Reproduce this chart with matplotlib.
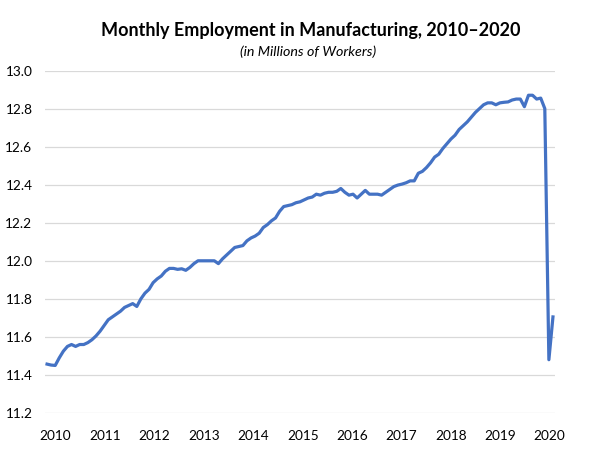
import matplotlib
matplotlib.use("Agg")
import matplotlib.pyplot as plt
import numpy as np

# Monthly values, Jan 2010 .. May 2020 (millions of workers)
v2010 = [11.457, 11.452, 11.45, 11.49, 11.525, 11.55, 11.56, 11.55, 11.56, 11.56, 11.57, 11.585]
v2011 = [11.605, 11.63, 11.66, 11.69, 11.705, 11.72, 11.735, 11.755, 11.765, 11.775, 11.76, 11.80]
v2012 = [11.83, 11.85, 11.885, 11.905, 11.92, 11.945, 11.96, 11.96, 11.955, 11.958, 11.95, 11.965]
v2013 = [11.985, 12.0, 12.0, 12.0, 12.0, 12.0, 11.985, 12.01, 12.03, 12.05, 12.07, 12.075]
v2014 = [12.08, 12.105, 12.12, 12.13, 12.145, 12.175, 12.19, 12.21, 12.225, 12.26, 12.285, 12.29]
v2015 = [12.295, 12.305, 12.31, 12.32, 12.33, 12.335, 12.35, 12.345, 12.355, 12.36, 12.36, 12.365]
v2016 = [12.38, 12.36, 12.345, 12.35, 12.33, 12.35, 12.37, 12.35, 12.35, 12.35, 12.345, 12.36]
v2017 = [12.375, 12.39, 12.398, 12.403, 12.41, 12.42, 12.42, 12.46, 12.47, 12.49, 12.515, 12.545]
v2018 = [12.56, 12.59, 12.615, 12.64, 12.66, 12.69, 12.71, 12.73, 12.755, 12.78, 12.80, 12.82]
v2019 = [12.83, 12.83, 12.82, 12.83, 12.833, 12.835, 12.845, 12.85, 12.85, 12.81, 12.87, 12.87]
v2020 = [12.85, 12.855, 12.80, 11.48, 11.705]

values = v2010 + v2011 + v2012 + v2013 + v2014 + v2015 + v2016 + v2017 + v2018 + v2019 + v2020
year_labels = ["2010", "2011", "2012", "2013", "2014", "2015", "2016", "2017", "2018", "2019", "2020"]
y_ticks = [11.2, 11.4, 11.6, 11.8, 12.0, 12.2, 12.4, 12.6, 12.8, 13.0]

FONT = ["Lato", "DejaVu Sans"]
plt.rcParams["font.family"] = FONT

fig = plt.figure(figsize=(6, 4.5), dpi=100)
ax = fig.add_axes([0.075, 0.0822, 0.85, 0.7611])

x = np.arange(len(values))
ax.plot(x, values, color="#4472C4", linewidth=2.3, solid_joinstyle="round", zorder=3)

ax.set_xlim(-0.5, len(values) - 0.5)
ax.set_ylim(11.2, 13.0)
ax.set_yticks(y_ticks)
ax.set_yticklabels([f"{t:.1f}" for t in y_ticks])
tick_pos = [2.1 + 12.11 * k for k in range(len(year_labels))]
ax.set_xticks(tick_pos)
ax.set_xticklabels(year_labels)

ax.grid(axis="y", color="#D9D9D9", linewidth=0.9)
ax.set_axisbelow(True)
for s in ax.spines.values():
    s.set_visible(False)
ax.tick_params(axis="both", length=0, labelsize=9.8, colors="#000000")
ax.tick_params(axis="y", pad=9)
ax.tick_params(axis="x", pad=12)

fig.text(0.518, 0.933, "Monthly Employment in Manufacturing, 2010–2020",
         ha="center", va="center", fontsize=13, fontweight="bold")
fig.text(0.513, 0.884, "(in Millions of Workers)", ha="center", va="center",
         fontsize=10.3, style="italic")

fig.savefig("out.png", dpi=100)
